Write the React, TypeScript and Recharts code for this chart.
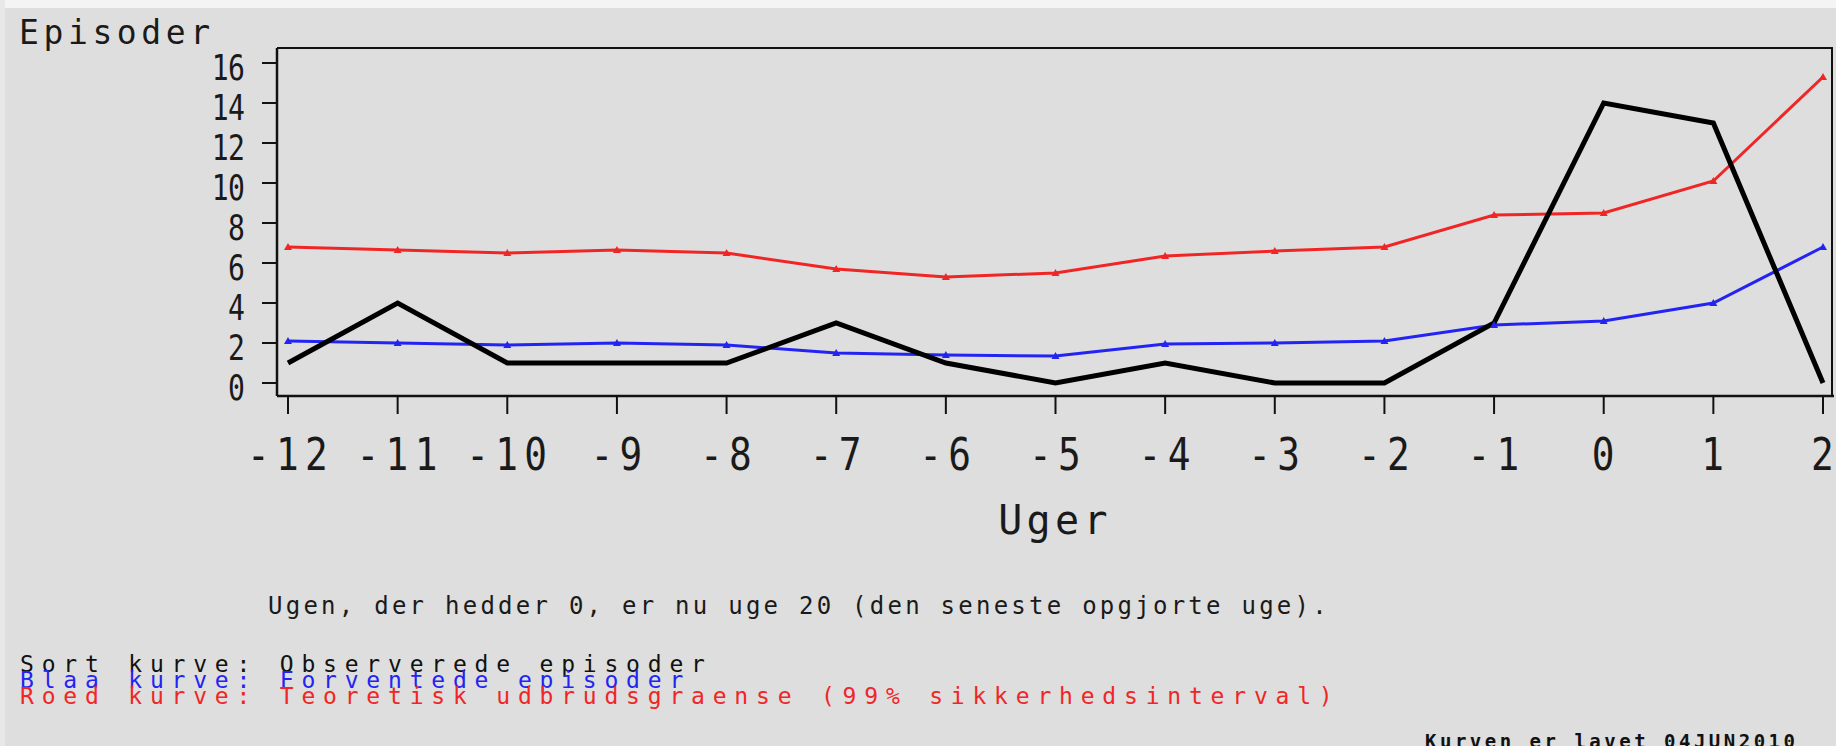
import React from 'react';
import { LineChart, Line, XAxis, YAxis } from 'recharts';

const weeks = [-12, -11, -10, -9, -8, -7, -6, -5, -4, -3, -2, -1, 0, 1, 2];
const observed = [1, 4, 1, 1, 1, 3, 1, 0, 1, 0, 0, 3, 14, 13, 0];
const expected = [2.1, 2.0, 1.9, 2.0, 1.9, 1.5, 1.4, 1.35, 1.95, 2.0, 2.1, 2.9, 3.1, 4.0, 6.8];
const limit = [6.8, 6.65, 6.5, 6.65, 6.5, 5.7, 5.3, 5.5, 6.35, 6.6, 6.8, 8.4, 8.5, 10.1, 15.3];
const yTicks = [0, 2, 4, 6, 8, 10, 12, 14, 16];

const legendLines = [
  'Sort kurve: Observerede episoder',
  'Blaa kurve: Forventede episoder',
  'Roed kurve: Teoretisk udbrudsgraense (99% sikkerhedsinterval)',
];
const legendColors = ['#111111', '#2424f2', '#f02626'];
const footnote = 'Ugen, der hedder 0, er nu uge 20 (den seneste opgjorte uge).';
const stamp = 'Kurven er lavet 04JUN2010';

const rows = weeks.map((w, i) => ({ week: w, observed: observed[i], expected: expected[i], limit: limit[i] }));

const MONO = '"DejaVu Sans Mono", "Liberation Mono", monospace';
const BG = '#dedede';
const INK = '#1a1a1a';

function XTick(props: any) {
  const { x, y, payload } = props;
  return (
    <text transform={`translate(${x + 2.5},${y + 56}) scale(0.9,1.05)`} textAnchor="middle"
      fontFamily={MONO} fontSize={42} style={{ letterSpacing: '7px' }} fill={INK}>
      {String(payload.value)}
    </text>
  );
}

function YTick(props: any) {
  const { x, y, payload } = props;
  return (
    <text transform={`translate(${x},${y + 17}) scale(0.78,1)`} textAnchor="end" fontFamily={MONO}
      fontSize={36} style={{ letterSpacing: '-1px' }} fill={INK}>
      {String(payload.value)}
    </text>
  );
}

function marker(color: string) {
  return (p: any) => {
    const { cx, cy, index } = p;
    return (
      <path key={`m-${color}-${index}`}
        d={`M${cx - 4},${cy + 3}L${cx + 4},${cy + 3}L${cx},${cy - 4}Z`} fill={color} />
    );
  };
}

export default function App() {
  return (
    <div style={{ position: 'fixed', left: 0, top: 0, width: 1836, height: 746, background: BG, overflow: 'hidden' }}>
      <div style={{ position: 'absolute', left: 0, top: 0, width: 1836, height: 8, background: '#f4f4f4' }} />
      <div style={{ position: 'absolute', left: 0, top: 0, width: 5, height: 746, background: '#e8e8e8' }} />
      {/* plot frame: top and right edges */}
      <div style={{
        position: 'absolute', left: 277, top: 47, width: 1556, height: 349,
        borderTop: '2.5px solid #111', borderRight: '2.5px solid #111', boxSizing: 'border-box',
      }} />
      <div style={{ position: 'absolute', left: 0, top: 0 }}>
        <LineChart width={1836} height={746} data={rows} margin={{ top: 48, right: 2, bottom: 290, left: 197 }}>
          <XAxis dataKey="week" type="number" domain={[-12, 2]} ticks={weeks} interval={0}
            padding={{ left: 11, right: 11 }} height={60} tickSize={18} tickMargin={0}
            axisLine={{ stroke: '#111', strokeWidth: 2.5 }} tickLine={{ stroke: '#111', strokeWidth: 2 }}
            tick={<XTick />} />
          <YAxis domain={[0, 16]} ticks={yTicks} interval={0} width={80} padding={{ top: 15, bottom: 13 }}
            tickSize={15} tickMargin={18} axisLine={{ stroke: '#111', strokeWidth: 2.5 }}
            tickLine={{ stroke: '#111', strokeWidth: 2 }} tick={<YTick />} />
          <Line dataKey="limit" stroke={legendColors[2]} strokeWidth={3} dot={marker(legendColors[2])}
            isAnimationActive={false} type="linear" />
          <Line dataKey="expected" stroke={legendColors[1]} strokeWidth={3} dot={marker(legendColors[1])}
            isAnimationActive={false} type="linear" />
          <Line dataKey="observed" stroke="#000" strokeWidth={5} dot={false}
            isAnimationActive={false} type="linear" />
        </LineChart>
      </div>
      <svg width={1836} height={746} style={{ position: 'absolute', left: 0, top: 0, pointerEvents: 'none' }}>
        <text x={19} y={44} fontFamily={MONO} fontSize={33} style={{ letterSpacing: '4.6px' }} fill={INK}>
          Episoder
        </text>
        <text x={1055} y={534} textAnchor="middle" fontFamily={MONO} fontSize={40}
          style={{ letterSpacing: '4.3px' }} fill={INK}>
          Uger
        </text>
        <text x={268} y={614} fontFamily={MONO} fontSize={24} style={{ letterSpacing: '3.25px' }} fill={INK}>
          {footnote}
        </text>
        {legendLines.map((t, i) => (
          <text key={t} x={20} y={672 + i * 16} fontFamily={MONO} fontSize={23}
            style={{ letterSpacing: '7.8px' }} fill={legendColors[i]}>
            {t}
          </text>
        ))}
        <text x={1425} y={748} fontFamily={MONO} fontSize={19} fontWeight="bold"
          style={{ letterSpacing: '3.5px' }} fill="#111">
          {stamp}
        </text>
      </svg>
    </div>
  );
}
